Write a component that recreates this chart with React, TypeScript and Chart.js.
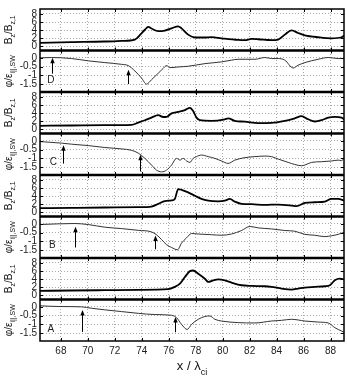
import React, { useEffect, useRef } from 'react';
import { Chart, registerables } from 'chart.js';
Chart.register(...registerables);

// ---- axis ticks ----
const xTicks = [68, 70, 72, 74, 76, 78, 80, 82, 84, 86, 88];
const bzTicks = [0, 2, 4, 6, 8];
const phiTicks = [-1.5, -1, -0.5, 0];

// ---- panel D ----
const dBzX = [66.44, 68.79, 71.26, 72.5, 73.49, 73.98, 74.23, 74.48, 74.72, 75.22, 75.71, 76.21, 76.70, 76.95, 77.44, 77.94, 78.68, 79.17, 79.92, 81.15, 81.65, 82.14, 82.64, 83.62, 84.12, 84.61, 85.11, 85.60, 86.10, 87.09, 88.07, 88.82, 89.01];
const dBzY = [0.89, 1.05, 1.21, 1.37, 1.7, 3.2, 4.1, 4.8, 4.4, 3.75, 3.9, 4.44, 4.95, 4.44, 2.9, 2.2, 2.2, 2.3, 2.0, 1.6, 1.55, 1.85, 1.77, 1.55, 1.69, 2.9, 3.95, 3.3, 2.74, 2.26, 2.0, 2.26, 2.66];
const dPhiX = [66.44, 67.31, 68.79, 70.03, 71.26, 72.5, 72.99, 73.49, 73.98, 74.35, 74.72, 75.22, 75.59, 75.84, 76.08, 76.70, 77.44, 78.68, 79.92, 80.66, 81.15, 82.39, 83.13, 83.62, 84.12, 84.61, 85.23, 85.60, 86.10, 87.09, 87.83, 88.57, 89.01];
const dPhiY = [0, 0.02, -0.04, -0.17, -0.27, -0.37, -0.44, -0.75, -1.15, -1.5, -1.25, -0.88, -0.6, -0.44, -0.56, -0.52, -0.48, -0.33, -0.23, -0.13, -0.08, -0.08, 0.02, -0.04, -0.04, -0.13, -0.58, -0.42, -0.27, -0.08, 0.02, -0.04, -0.04];

// ---- panel C ----
const cBzX = [66.44, 68.79, 71.26, 73.24, 73.74, 74.23, 74.72, 75.22, 75.59, 75.84, 76.21, 76.70, 77.20, 77.57, 77.81, 78.06, 78.31, 79.17, 80.16, 80.41, 80.90, 81.65, 82.64, 83.62, 84.61, 85.35, 85.85, 86.34, 86.84, 87.33, 87.83, 88.32, 88.82, 89.01];
const cBzY = [0.89, 0.97, 1.05, 1.13, 1.69, 2.26, 2.9, 3.5, 3.06, 3.1, 3.95, 4.3, 4.76, 5.32, 4.52, 2.9, 2.26, 2.1, 2.5, 2.74, 2.1, 1.9, 1.55, 1.6, 2.1, 2.74, 3.25, 2.5, 1.95, 2.26, 2.9, 3.1, 2.9, 2.5];
const cPhiX = [66.44, 68.05, 68.79, 70.03, 71.26, 72.5, 73.24, 73.74, 74.23, 74.72, 75.09, 75.47, 75.84, 76.21, 76.58, 76.83, 77.07, 77.32, 77.57, 77.81, 78.06, 78.43, 78.93, 79.42, 79.92, 80.41, 80.90, 81.65, 82.39, 83.13, 83.62, 84.12, 84.86, 85.35, 85.85, 86.10, 86.59, 87.33, 88.07, 88.57, 88.82, 89.01];
const cPhiY = [-0.04, -0.13, -0.19, -0.27, -0.38, -0.46, -0.54, -0.7, -1.0, -1.38, -1.67, -1.77, -1.67, -1.38, -1.0, -1.1, -1.0, -1.15, -1.23, -1.0, -0.9, -0.81, -0.9, -1.0, -1.15, -1.29, -1.1, -0.96, -0.9, -0.87, -0.9, -1.04, -1.23, -1.35, -1.42, -1.38, -1.23, -1.19, -1.15, -1.1, -1.13, -1.0];

// ---- panel B ----
const bBzX = [66.44, 68.79, 71.26, 73.74, 74.72, 75.22, 75.71, 76.21, 76.45, 76.70, 76.95, 77.44, 77.94, 78.43, 78.93, 79.67, 80.16, 80.53, 80.90, 81.40, 82.14, 83.13, 84.12, 85.11, 85.48, 86.10, 86.84, 87.58, 88.07, 88.57, 89.01];
const bBzY = [1.05, 1.13, 1.21, 1.29, 1.45, 2.1, 2.8, 2.95, 3.31, 5.73, 5.56, 4.92, 4.11, 3.31, 2.9, 2.74, 2.9, 3.31, 2.66, 2.1, 2.02, 1.85, 1.94, 1.69, 1.53, 2.34, 2.5, 2.66, 3.31, 3.31, 2.9];
const bPhiX = [66.44, 67.80, 69.04, 70.03, 71.26, 72.5, 73.74, 74.72, 75.09, 75.47, 75.84, 76.21, 76.65, 76.95, 77.32, 77.69, 78.19, 79.17, 79.92, 80.66, 81.40, 82.02, 82.64, 83.62, 84.61, 85.35, 86.10, 86.84, 87.58, 88.07, 88.57, 89.01];
const bPhiY = [-0.04, 0, 0.02, -0.04, -0.19, -0.27, -0.37, -0.46, -0.62, -0.9, -1.19, -1.35, -1.48, -1.1, -0.8, -0.55, -0.58, -0.62, -0.65, -0.58, -0.38, -0.15, -0.23, -0.29, -0.38, -0.42, -0.6, -0.65, -0.73, -0.68, -0.6, -0.48];

// ---- panel A ----
const aBzX = [66.44, 68.79, 71.26, 73.74, 75.96, 76.45, 76.83, 77.20, 77.57, 77.81, 78.19, 78.68, 78.93, 79.30, 79.67, 80.16, 80.66, 81.40, 82.14, 83.13, 83.62, 84.37, 85.11, 85.60, 86.10, 86.84, 87.58, 87.95, 88.32, 88.69, 89.01];
const aBzY = [1.13, 1.21, 1.29, 1.37, 1.53, 2.1, 2.9, 4.52, 5.97, 6.13, 5.32, 4.11, 3.31, 3.71, 3.95, 3.71, 3.15, 2.5, 2.34, 2.26, 2.1, 1.69, 1.45, 1.69, 1.94, 2.1, 2.26, 2.5, 3.71, 4.11, 3.95];
const aPhiX = [66.44, 67.80, 69.53, 70.27, 71.26, 72.5, 73.74, 74.97, 76.21, 76.58, 76.95, 77.37, 77.69, 78.19, 78.68, 79.05, 79.42, 79.92, 81.15, 82.39, 83.62, 84.37, 85.11, 86.10, 87.09, 87.83, 88.32, 88.82, 89.01];
const aPhiY = [0.06, 0.02, 0, -0.08, -0.17, -0.27, -0.37, -0.44, -0.48, -0.62, -1.0, -1.29, -1.0, -0.71, -0.55, -0.52, -0.71, -0.81, -0.9, -0.92, -0.81, -0.77, -0.71, -0.81, -0.87, -0.92, -1.19, -1.38, -1.45];

// ---- annotations: [x, tail value, tip value] ----
const arrowsD = [[67.34, -0.9, 0.0], [72.96, -1.5, -0.68]];
const arrowsC = [[68.17, -1.3, -0.25], [73.88, -1.75, -0.8]];
const arrowsB = [[69.05, -1.35, -0.17], [74.96, -1.45, -0.66]];
const arrowsA = [[69.54, -1.43, -0.18], [76.48, -1.45, -0.58]];
const caseLabels = ['D', 'C', 'B', 'A'];
const caseLabelPos = [[67.26, -1.26], [67.45, -1.23], [67.37, -1.2], [67.25, -1.3]];

const FONT = '"Liberation Sans", Arial, Helvetica, sans-serif';

type Panel = { id: string; kind: 'bz' | 'phi'; xs: number[]; ys: number[]; arrows?: number[][]; label?: string; labelPos?: number[] };

const panels: Panel[] = [
  { id: 'yDb', kind: 'bz', xs: dBzX, ys: dBzY },
  { id: 'yDp', kind: 'phi', xs: dPhiX, ys: dPhiY, arrows: arrowsD, label: caseLabels[0], labelPos: caseLabelPos[0] },
  { id: 'yCb', kind: 'bz', xs: cBzX, ys: cBzY },
  { id: 'yCp', kind: 'phi', xs: cPhiX, ys: cPhiY, arrows: arrowsC, label: caseLabels[1], labelPos: caseLabelPos[1] },
  { id: 'yBb', kind: 'bz', xs: bBzX, ys: bBzY },
  { id: 'yBp', kind: 'phi', xs: bPhiX, ys: bPhiY, arrows: arrowsB, label: caseLabels[2], labelPos: caseLabelPos[2] },
  { id: 'yAb', kind: 'bz', xs: aBzX, ys: aBzY },
  { id: 'yAp', kind: 'phi', xs: aPhiX, ys: aPhiY, arrows: arrowsA, label: caseLabels[3], labelPos: caseLabelPos[3] },
];

function drawRich(ctx: CanvasRenderingContext2D, parts: [string, boolean][], mainSize: number, subSize: number, subShift: number) {
  let total = 0;
  for (const [t, sub] of parts) {
    ctx.font = `${sub ? subSize : mainSize}px ${FONT}`;
    total += ctx.measureText(t).width;
  }
  let x = -total / 2;
  ctx.textAlign = 'left';
  ctx.textBaseline = 'alphabetic';
  for (const [t, sub] of parts) {
    ctx.font = `${sub ? subSize : mainSize}px ${FONT}`;
    ctx.fillText(t, x, sub ? subShift : 0);
    x += ctx.measureText(t).width;
  }
}

const decor = {
  id: 'decor',
  afterDatasetsDraw(chart: any) {
    const ctx: CanvasRenderingContext2D = chart.ctx;
    const area = chart.chartArea;
    const xs = chart.scales.x;
    ctx.save();
    ctx.strokeStyle = '#000';
    ctx.fillStyle = '#000';
    panels.forEach((p) => {
      const ys = chart.scales[p.id];
      const top = ys.top;
      const bot = ys.bottom;
      // inner ticks
      ctx.lineWidth = 1;
      ctx.beginPath();
      xTicks.forEach((v) => {
        const px = Math.round(xs.getPixelForValue(v)) + 0.5;
        ctx.moveTo(px, top);
        ctx.lineTo(px, top + 3);
        ctx.moveTo(px, bot);
        ctx.lineTo(px, bot - 3);
      });
      (p.kind === 'bz' ? bzTicks : phiTicks).forEach((v) => {
        const py = Math.round(ys.getPixelForValue(v)) + 0.5;
        ctx.moveTo(area.left, py);
        ctx.lineTo(area.left + 3, py);
        ctx.moveTo(area.right, py);
        ctx.lineTo(area.right - 3, py);
      });
      ctx.stroke();
      // y title
      ctx.save();
      ctx.fillStyle = '#111';
      ctx.translate(12, (top + bot) / 2);
      ctx.rotate(-Math.PI / 2);
      if (p.kind === 'bz') {
        drawRich(ctx, [['B', false], ['z', true], ['/B', false], ['z,1', true]], 10, 7, 2.5);
      } else {
        drawRich(ctx, [['φ/ε', false], ['i||,SW', true]], 10, 7, 2.5);
      }
      ctx.restore();
      // arrows and label
      if (p.arrows) {
        ctx.lineWidth = 1;
        p.arrows.forEach(([ax, tail, tip]) => {
          const px = Math.round(xs.getPixelForValue(ax)) + 0.5;
          const y0 = ys.getPixelForValue(tail);
          const y1 = ys.getPixelForValue(tip);
          ctx.beginPath();
          ctx.moveTo(px, y0);
          ctx.lineTo(px, y1 + 4);
          ctx.stroke();
          ctx.beginPath();
          ctx.moveTo(px, y1);
          ctx.lineTo(px - 2.2, y1 + 5.5);
          ctx.lineTo(px + 2.2, y1 + 5.5);
          ctx.closePath();
          ctx.fill();
        });
      }
      if (p.label && p.labelPos) {
        ctx.save();
        ctx.fillStyle = '#222';
        ctx.font = `10px ${FONT}`;
        ctx.textAlign = 'center';
        ctx.textBaseline = 'middle';
        ctx.fillText(p.label, xs.getPixelForValue(p.labelPos[0]), ys.getPixelForValue(p.labelPos[1]));
        ctx.restore();
      }
    });
    // frame and separators
    ctx.lineWidth = 1.5;
    ctx.strokeRect(area.left, area.top, area.right - area.left, area.bottom - area.top);
    ctx.lineWidth = 2.5;
    ctx.beginPath();
    panels.slice(1).forEach((p) => {
      const y = chart.scales[p.id].top;
      ctx.moveTo(area.left, y);
      ctx.lineTo(area.right, y);
    });
    ctx.stroke();
    // x title
    ctx.save();
    ctx.fillStyle = '#111';
    ctx.translate((area.left + area.right) / 2, 370);
    drawRich(ctx, [['x / λ', false], ['ci', true]], 13, 9, 5);
    ctx.restore();
    ctx.restore();
  },
};

export default function App() {
  const ref = useRef<HTMLCanvasElement>(null);
  useEffect(() => {
    Chart.defaults.font.family = FONT;
    const scales: any = {
      x: {
        type: 'linear',
        position: 'bottom',
        min: 66.45,
        max: 89,
        afterBuildTicks: (s: any) => { s.ticks = xTicks.map((v) => ({ value: v })); },
        afterFit: (s: any) => { s.height = 39; },
        grid: { color: '#a8a8a8', lineWidth: 1, drawTicks: false },
        border: { display: false, dash: [1, 2] },
        ticks: { padding: 4, color: '#222', font: { size: 10 }, maxRotation: 0, autoSkip: false, callback: (v: any) => String(v) },
      },
    };
    panels.forEach((p, i) => {
      const isBz = p.kind === 'bz';
      const tk = isBz ? bzTicks : phiTicks;
      scales[p.id] = {
        type: 'linear',
        position: 'left',
        stack: 'panels',
        stackWeight: 1,
        weight: panels.length - i,
        min: isBz ? -1 : -1.95,
        max: isBz ? 9.2 : 0.42,
        afterBuildTicks: (s: any) => { s.ticks = tk.map((v) => ({ value: v })); },
        afterFit: (s: any) => { s.width = 40; },
        grid: { color: '#a8a8a8', lineWidth: 1, drawTicks: false },
        border: { display: false, dash: [1, 2] },
        ticks: { padding: 3, color: '#222', font: { size: 10 }, autoSkip: false, callback: (v: any) => String(v) },
      };
    });
    const datasets = panels.map((p) => ({
      data: p.xs.map((x, k) => ({ x, y: p.ys[k] })),
      xAxisID: 'x',
      yAxisID: p.id,
      borderColor: p.kind === 'bz' ? '#000' : '#333',
      borderWidth: p.kind === 'bz' ? 1.8 : 1,
      pointRadius: 0,
      cubicInterpolationMode: 'monotone' as const,
      fill: false,
    }));
    const chart = new Chart(ref.current!, {
      type: 'line',
      data: { datasets },
      options: {
        animation: false,
        responsive: false,
        devicePixelRatio: 1,
        layout: { padding: { left: 0, right: 3, top: 5, bottom: 0 } },
        plugins: { legend: { display: false }, tooltip: { enabled: false } },
        scales,
      },
      plugins: [decor],
    });
    return () => chart.destroy();
  }, []);
  return (
    <div style={{ position: 'fixed', left: 0, top: 0, width: 347, height: 380, background: '#fff' }}>
      <canvas ref={ref} width={347} height={380} style={{ display: 'block', width: 347, height: 380 }} />
    </div>
  );
}
